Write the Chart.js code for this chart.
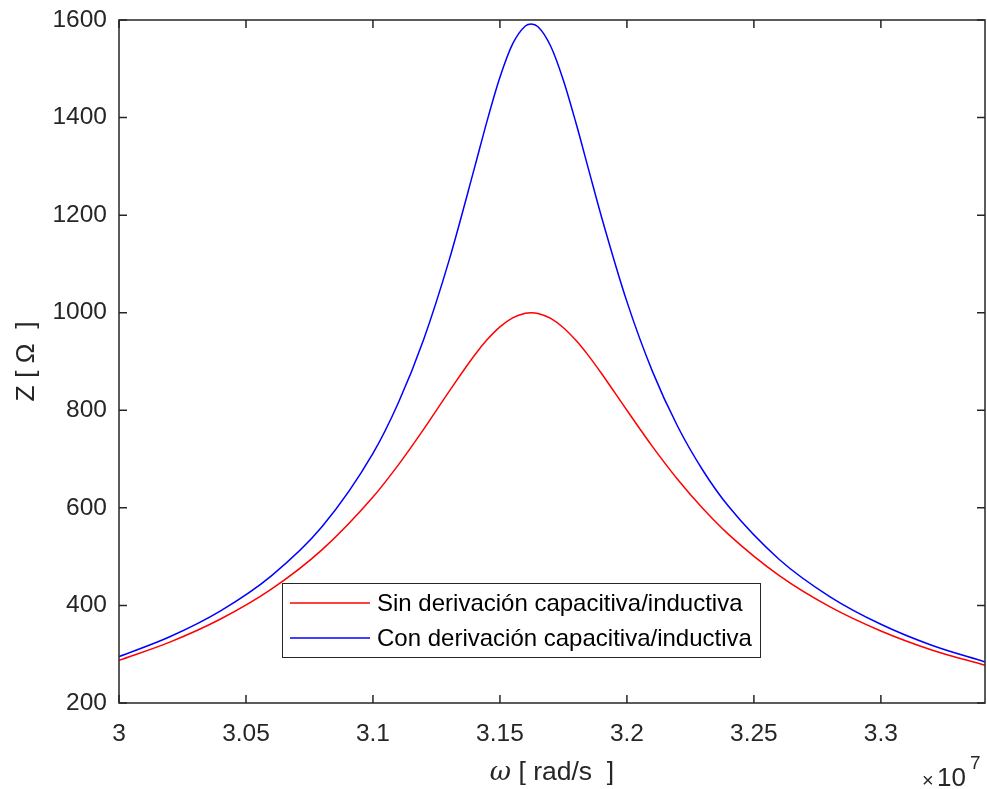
<!DOCTYPE html>
<html>
<head>
<meta charset="utf-8">
<script src="https://cdn.jsdelivr.net/npm/chart.js@4/dist/chart.umd.min.js"></script>
<style>
  html, body { margin: 0; padding: 0; background: #fff; }
  #wrap { width: 987px; height: 789px; }
</style>
</head>
<body>
<div id="wrap"><canvas id="zChart" width="987" height="789"></canvas></div>
<script>
// omega in units of 1e7 rad/s
const omega = [3.00, 3.02, 3.04, 3.06, 3.08, 3.10, 3.11, 3.12, 3.13, 3.14, 3.145, 3.15, 3.155, 3.16, 3.1623,
  3.165, 3.17, 3.175, 3.18, 3.185, 3.19, 3.20, 3.21, 3.22, 3.23, 3.24, 3.26, 3.28, 3.30, 3.32, 3.341];
// Z without shunt (red)
const zSin = [287.3, 324.7, 372.1, 433.3, 514.3, 622.2, 688.2, 761.5, 838.9, 912.9, 944.9, 971.0, 989.5, 999.0, 1000,
  998.5, 988.3, 969.2, 942.8, 911.0, 875.5, 800.0, 726.0, 658.1, 598.0, 545.6, 461.0, 397.0, 347.7, 308.8, 277.3];
// Z with shunt (blue)
const zCon = [295.1, 335.9, 389.0, 460.7, 561.6, 711.6, 815.4, 945.8, 1107.8, 1297.3, 1394.3, 1482.5, 1550.9, 1587.8, 1592,
  1586.1, 1546.1, 1476.1, 1387.7, 1291.8, 1196.3, 1022.7, 880.3, 766.7, 676.1, 603.1, 494.2, 417.7, 361.4, 318.4, 284.2];
const xTicks = [3, 3.05, 3.1, 3.15, 3.2, 3.25, 3.3];
const yTicks = [200, 400, 600, 800, 1000, 1200, 1400, 1600];
const seriesNames = ['Sin derivación capacitiva/inductiva', 'Con derivación capacitiva/inductiva'];

const FONT = 'Liberation Sans, Arial, sans-serif';
const AXIS = '#262626';

function pts(ys) {
  return omega.map((w, i) => ({ x: w, y: ys[i] }));
}

// box, inward ticks, axis titles and the x10^7 label
const matlabAxes = {
  id: 'matlabAxes',
  afterDraw(chart) {
    const { ctx, chartArea: a, scales } = chart;
    ctx.save();
    ctx.strokeStyle = AXIS;
    ctx.lineWidth = 1.5;
    ctx.strokeRect(a.left, a.top, a.right - a.left, a.bottom - a.top);
    ctx.beginPath();
    const len = 8;
    xTicks.forEach(t => {
      const px = scales.x.getPixelForValue(t);
      ctx.moveTo(px, a.bottom); ctx.lineTo(px, a.bottom - len);
      ctx.moveTo(px, a.top); ctx.lineTo(px, a.top + len);
    });
    yTicks.forEach(t => {
      const py = scales.y.getPixelForValue(t);
      ctx.moveTo(a.left, py); ctx.lineTo(a.left + len, py);
      ctx.moveTo(a.right, py); ctx.lineTo(a.right - len, py);
    });
    ctx.stroke();

    // x axis title
    ctx.fillStyle = AXIS;
    ctx.textBaseline = 'middle';
    const cx = (a.left + a.right) / 2;
    const yT = 773;
    ctx.font = 'italic 26px "DejaVu Serif", serif';
    const wOm = ctx.measureText('ω').width;
    ctx.font = '26.5px ' + FONT;
    const rest = ' [ rad/s  ]';
    const wRest = ctx.measureText(rest).width;
    const sx = cx - (wOm + wRest) / 2;
    ctx.textAlign = 'left';
    ctx.font = 'italic 26px "DejaVu Serif", serif';
    ctx.fillText('ω', sx, yT);
    ctx.font = '26.5px ' + FONT;
    ctx.fillText(rest, sx + wOm, yT);

    // y axis title
    ctx.save();
    ctx.translate(27, (a.top + a.bottom) / 2);
    ctx.rotate(-Math.PI / 2);
    ctx.textAlign = 'center';
    ctx.font = '26.5px ' + FONT;
    ctx.fillText('Z [ Ω  ]', 0, 0);
    ctx.restore();

    // exponent label
    ctx.textAlign = 'left';
    ctx.font = '20px ' + FONT;
    ctx.fillText('×', 922, 781);
    ctx.font = '26px ' + FONT;
    ctx.fillText('10', 937, 779);
    ctx.font = '19px ' + FONT;
    ctx.fillText('7', 970, 764);
    ctx.restore();
  }
};

const boxLegend = {
  id: 'boxLegend',
  afterDraw(chart) {
    const { ctx } = chart;
    ctx.save();
    ctx.fillStyle = '#fff';
    ctx.fillRect(282, 583, 478, 74);
    ctx.strokeStyle = AXIS;
    ctx.lineWidth = 1;
    ctx.strokeRect(282.5, 583.5, 478, 74);
    const rows = [603, 638];
    chart.data.datasets.forEach((ds, i) => {
      ctx.strokeStyle = ds.borderColor;
      ctx.lineWidth = 1.5;
      ctx.beginPath();
      ctx.moveTo(290, rows[i]); ctx.lineTo(370, rows[i]);
      ctx.stroke();
      ctx.fillStyle = '#000';
      ctx.font = '24px ' + FONT;
      ctx.textAlign = 'left';
      ctx.textBaseline = 'middle';
      ctx.fillText(ds.label, 377, rows[i] + 1);
    });
    ctx.restore();
  }
};

new Chart(document.getElementById('zChart'), {
  type: 'line',
  data: {
    datasets: [
      { label: seriesNames[0], data: pts(zSin), borderColor: '#ff0000', backgroundColor: '#ff0000',
        borderWidth: 1.5, pointRadius: 0, cubicInterpolationMode: 'monotone', fill: false },
      { label: seriesNames[1], data: pts(zCon), borderColor: '#0000ff', backgroundColor: '#0000ff',
        borderWidth: 1.5, pointRadius: 0, cubicInterpolationMode: 'monotone', fill: false }
    ]
  },
  options: {
    responsive: false,
    animation: false,
    layout: { padding: { top: 20, right: 2, left: 0, bottom: 0 } },
    plugins: {
      legend: { display: false },
      tooltip: { enabled: false }
    },
    scales: {
      x: {
        type: 'linear',
        min: 3,
        max: 3.341,
        afterFit: s => { s.height = 86; s.paddingLeft = 0; s.paddingRight = 0; },
        afterBuildTicks: s => { s.ticks = xTicks.map(v => ({ value: v })); },
        grid: { display: false, drawTicks: false },
        border: { display: false },
        ticks: {
          color: AXIS, padding: 17,
          font: { family: FONT, size: 24.5 },
          callback: v => String(v)
        }
      },
      y: {
        min: 200,
        max: 1600,
        afterFit: s => { s.width = 119; s.paddingTop = 0; s.paddingBottom = 0; },
        afterBuildTicks: s => { s.ticks = yTicks.map(v => ({ value: v })); },
        grid: { display: false, drawTicks: false },
        border: { display: false },
        ticks: {
          color: AXIS, padding: 12,
          font: { family: FONT, size: 24.5 },
          callback: v => String(v)
        }
      }
    }
  },
  plugins: [matlabAxes, boxLegend]
});
</script>
</body>
</html>
